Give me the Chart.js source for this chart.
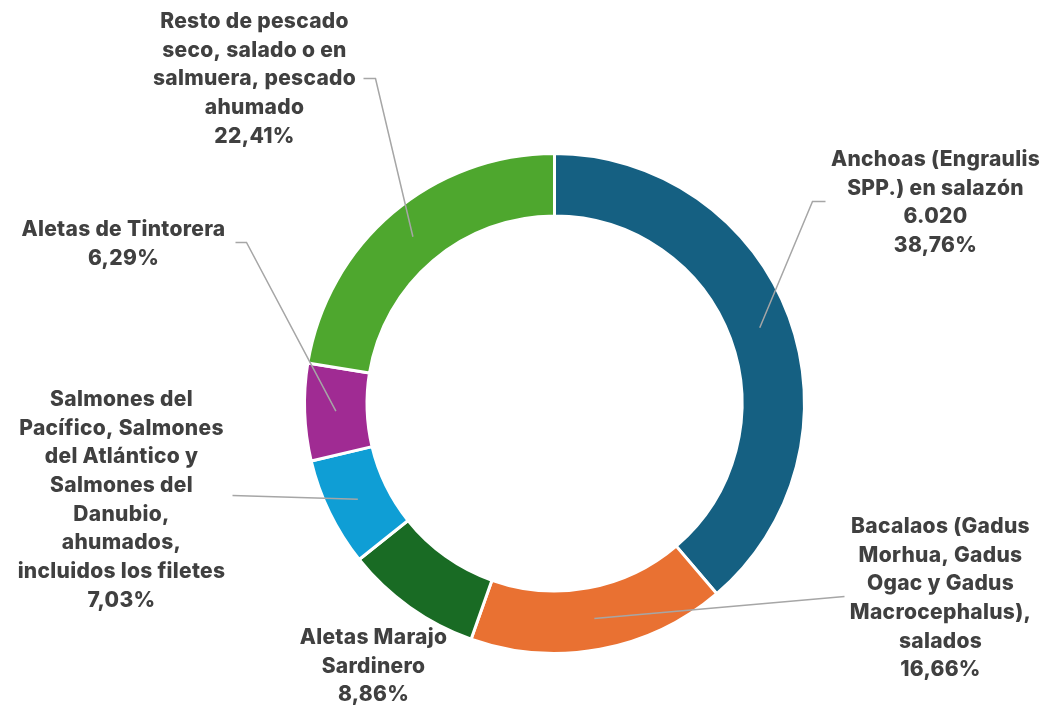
<!DOCTYPE html>
<html>
<head>
<meta charset="utf-8">
<script src="https://cdn.jsdelivr.net/npm/chart.js@4/dist/chart.umd.min.js"></script>
<style>
  html, body { margin: 0; padding: 0; background: #ffffff; }
  #wrap { width: 1043px; height: 705px; position: relative; }
</style>
</head>
<body>
<div id="wrap"><canvas id="grafiek"></canvas></div>
<script>
// Categorías (cada etiqueta en líneas, como en el original)
const categorias = [
  ['Anchoas (Engraulis', 'SPP.) en salazón'],
  ['Bacalaos (Gadus', 'Morhua, Gadus', 'Ogac y Gadus', 'Macrocephalus),', 'salados'],
  ['Aletas Marajo', 'Sardinero'],
  ['Salmones del', 'Pacífico, Salmones', 'del Atlántico y', 'Salmones del', 'Danubio,', 'ahumados,', 'incluidos los filetes'],
  ['Aletas de Tintorera'],
  ['Resto de pescado', 'seco, salado o en', 'salmuera, pescado', 'ahumado']
];
// Porcentajes de cada categoría
const porcentajes = [38.76, 16.66, 8.86, 7.03, 6.29, 22.41];
// Valor absoluto mostrado (solo para la primera)
const valores = ['6.020', null, null, null, null, null];

const kleuren = ['#156082', '#E97132', '#196B24', '#0F9ED5', '#A02B93', '#4EA72E'];

// Positie van de labels t.o.v. het midden van de donut
const labelLayout = [
  { cx: 381, y0: -244, lijn: [[258, -202], [271, -202]] },
  { cx: 386, y0: 123, lijn: [[290, 193]] },
  { cx: -181, y0: 234, lijn: null },
  { cx: -433, y0: -4, lijn: [[-322, 92]] },
  { cx: -431, y0: -174, lijn: [[-308, -161], [-319, -161]] },
  { cx: -300, y0: -382, lijn: [[-179, -325], [-191, -325]] }
];

function fmtPct(v) {
  return v.toFixed(2).replace('.', ',') + '%';
}

// Plugin om de labels met lijnen te tekenen
const labelPlugin = {
  id: 'labels',
  afterDatasetsDraw(chart) {
    const ctx = chart.ctx;
    const meta = chart.getDatasetMeta(0);
    ctx.save();
    meta.data.forEach((arc, i) => {
      const lay = labelLayout[i];
      const cx = arc.x, cy = arc.y;
      if (lay.lijn) {
        const p = arc.tooltipPosition();
        ctx.beginPath();
        ctx.moveTo(p.x, p.y);
        lay.lijn.forEach(pt => ctx.lineTo(cx + pt[0], cy + pt[1]));
        ctx.strokeStyle = '#A6A6A6';
        ctx.lineWidth = 1.5;
        ctx.stroke();
      }
      const regels = categorias[i].slice();
      if (valores[i]) regels.push(valores[i]);
      regels.push(fmtPct(porcentajes[i]));
      ctx.fillStyle = '#404040';
      ctx.font = '800 21px Inter';
      ctx.letterSpacing = '0.3px';
      ctx.textAlign = 'center';
      ctx.textBaseline = 'middle';
      regels.forEach((r, k) => {
        ctx.fillText(r, cx + lay.cx, cy + lay.y0 + k * 28.7);
      });
    });
    ctx.restore();
  }
};

const ctx = document.getElementById('grafiek').getContext('2d');
new Chart(ctx, {
  type: 'doughnut',
  data: {
    labels: categorias.map(c => c.join(' ')),
    datasets: [{
      data: porcentajes,
      backgroundColor: kleuren,
      borderColor: '#ffffff',
      borderWidth: 3
    }]
  },
  options: {
    responsive: true,
    maintainAspectRatio: false,
    animation: false,
    cutout: '75%',
    layout: { padding: { top: 152, bottom: 50, left: 303, right: 237 } },
    plugins: {
      legend: { display: false },
      tooltip: { enabled: false }
    }
  },
  plugins: [labelPlugin]
});
</script>
</body>
</html>
